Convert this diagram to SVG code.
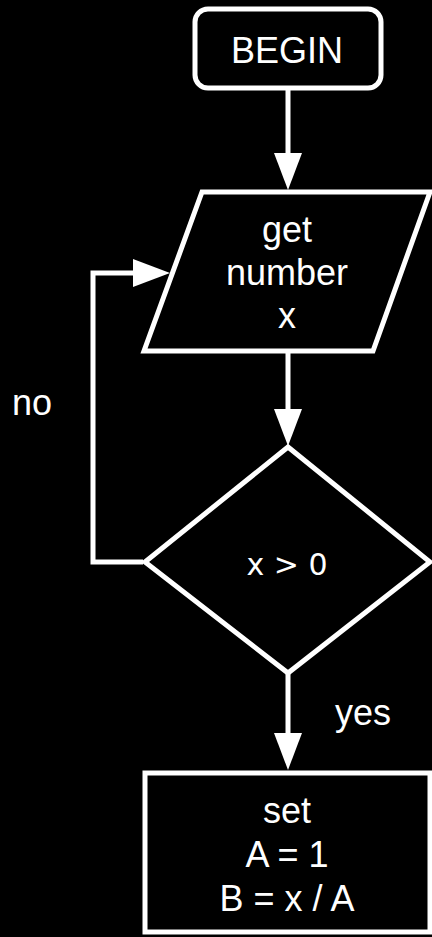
<svg xmlns="http://www.w3.org/2000/svg" width="432" height="937" viewBox="0 0 432 937">
<style>
.shape{fill:#000;stroke:#fff;stroke-width:5;stroke-linejoin:miter;stroke-miterlimit:10}
.edge{fill:none;stroke:#fff;stroke-width:5;stroke-linejoin:miter}
.t{fill:#fff;font-family:"Liberation Sans",Arial,sans-serif;font-size:36px;text-anchor:middle}
.d{fill:#fff;font-family:"DejaVu Sans",sans-serif;font-size:30px;text-anchor:middle}
</style>
<defs>
<marker id="ah" markerUnits="userSpaceOnUse" markerWidth="37" markerHeight="28" refX="17" refY="14" orient="auto" overflow="visible">
<path d="M0,0 L37,14 L0,28 z" fill="#fff"/>
</marker>
</defs>
<rect width="432" height="937" fill="#000"/>
<g id="connectors">
<line class="edge" x1="288" y1="90" x2="288" y2="170" marker-end="url(#ah)"/>
<line class="edge" x1="288" y1="352" x2="288" y2="426" marker-end="url(#ah)"/>
<polyline class="edge" points="143,562 93,562 93,273 150,273" marker-end="url(#ah)"/>
<line class="edge" x1="288" y1="673" x2="288" y2="750" marker-end="url(#ah)"/>
</g>
<g id="begin">
<rect class="shape" x="195" y="9" width="186" height="79" rx="13"/>
<text class="t" x="287" y="63">BEGIN</text>
</g>
<g id="input">
<polygon class="shape" points="202,192 430,192 373,351 144,351"/>
<text class="t" x="287" y="242">get</text>
<text class="t" x="287" y="285">number</text>
<text class="t" x="287" y="328">x</text>
</g>
<g id="decision">
<polygon class="shape" points="288,447 430,562 288,673 145,562"/>
<text class="d" x="287" y="575">x &gt; 0</text>
</g>
<g id="label-no">
<text class="t" x="32" y="415">no</text>
</g>
<g id="label-yes">
<text class="t" x="363" y="725">yes</text>
</g>
<g id="process">
<rect class="shape" x="145" y="773" width="285" height="159"/>
<text class="t" x="287" y="823">set</text>
<text class="t" x="287" y="867">A = 1</text>
<text class="t" x="287" y="911">B = x / A</text>
</g>
</svg>
